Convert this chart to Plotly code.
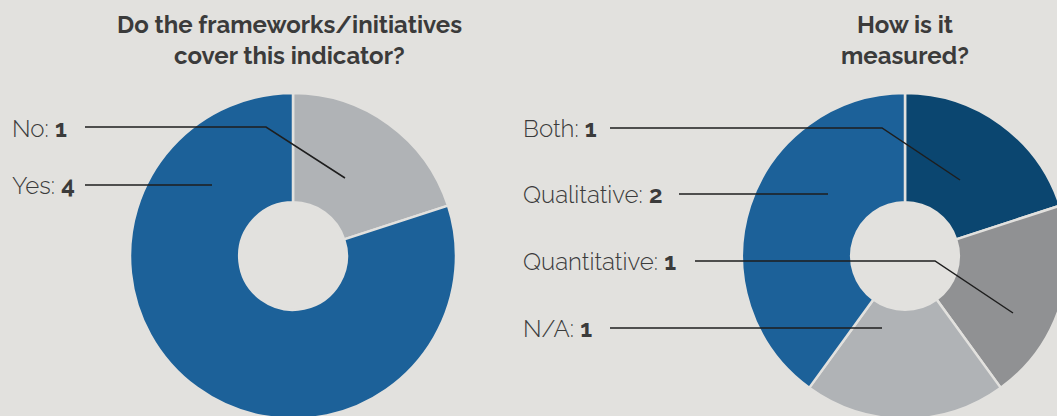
import plotly.graph_objects as go

# ---------------- data ----------------
left_title_lines = ["Do the frameworks/initiatives", "cover this indicator?"]
left_labels = ["No", "Yes"]
left_values = [1, 4]
left_colors = ["#b0b3b6", "#1c6199"]

right_title_lines = ["How is it", "measured?"]
right_labels = ["Both", "Quantitative", "N/A", "Qualitative"]
right_values = [1, 1, 1, 2]
right_colors = ["#0b4670", "#909193", "#b0b3b6", "#1c6199"]
right_label_order = ["Both", "Qualitative", "Quantitative", "N/A"]

# ---------------- layout constants ----------------
W, H = 1070, 420
BG = "#e2e1de"
TXT = "#3b3b3b"
FONT = "Raleway, Lato, sans-serif"
R = 163
HOLE = 0.33
left_center = (293, 256)
right_center = (905, 256)


def px(x):
    return x / W


def py(y):
    return 1 - y / H


def domain(c):
    cx, cy = c
    return dict(x=[px(cx - R), px(cx + R)], y=[py(cy + R), py(cy - R)])


fig = go.Figure()
fig.add_trace(go.Pie(labels=left_labels, values=left_values, sort=False,
                     direction="clockwise", rotation=0, hole=HOLE,
                     marker=dict(colors=left_colors, line=dict(color=BG, width=2.5)),
                     textinfo="none", hoverinfo="label+value",
                     domain=domain(left_center), showlegend=False))
fig.add_trace(go.Pie(labels=right_labels, values=right_values, sort=False,
                     direction="clockwise", rotation=0, hole=HOLE,
                     marker=dict(colors=right_colors, line=dict(color=BG, width=2.5)),
                     textinfo="none", hoverinfo="label+value",
                     domain=domain(right_center), showlegend=False))

annotations = []
# titles
for i, t in enumerate(left_title_lines):
    annotations.append(dict(x=px(289), y=py(24 + 32 * i), text=f"<b>{t}</b>",
                            xref="paper", yref="paper", showarrow=False,
                            xanchor="center", yanchor="middle",
                            font=dict(family=FONT, size=24, color=TXT)))
for i, t in enumerate(right_title_lines):
    annotations.append(dict(x=px(905), y=py(24 + 32 * i), text=f"<b>{t}</b>",
                            xref="paper", yref="paper", showarrow=False,
                            xanchor="center", yanchor="middle",
                            font=dict(family=FONT, size=24, color=TXT)))

# label rows: (text x, text y, polyline points)
left_rows = {
    "No": (10, 128, [(85, 127), (266, 127), (345, 178)]),
    "Yes": (10, 185, [(85, 185), (212, 185)]),
}
right_rows = {
    "Both": (521, 128, [(610, 128), (882, 128), (960, 180)]),
    "Qualitative": (521, 194, [(679, 194), (828, 194)]),
    "Quantitative": (521, 261, [(695, 261), (935, 261), (1013, 313)]),
    "N/A": (521, 328, [(610, 328), (882, 328)]),
}

shapes = []


def add_row(label, value, row):
    tx, ty, pts = row
    annotations.append(dict(x=px(tx), y=py(ty),
                            text=f"{label}: <b>{value}</b>",
                            xref="paper", yref="paper", showarrow=False,
                            xanchor="left", yanchor="middle",
                            font=dict(family=FONT, size=24, color=TXT, weight=300)))
    path = "M " + " L ".join(f"{px(x):.5f},{py(y):.5f}" for x, y in pts)
    shapes.append(dict(type="path", path=path, xref="paper", yref="paper",
                       line=dict(color="#1e1e1e", width=1.5)))


for lab, val in zip(left_labels, left_values):
    add_row(lab, val, left_rows[lab])
for lab in right_label_order:
    add_row(lab, right_values[right_labels.index(lab)], right_rows[lab])

fig.update_layout(width=W, height=H, margin=dict(l=0, r=0, t=0, b=0),
                  paper_bgcolor=BG, plot_bgcolor=BG,
                  annotations=annotations, shapes=shapes)

post = ("document.body.style.margin='0';document.body.style.overflow='hidden';"
        "document.documentElement.style.overflow='hidden';"
        "document.body.style.background='" + BG + "';")
fig.write_html("out.html", post_script=post, config={"displayModeBar": False})
